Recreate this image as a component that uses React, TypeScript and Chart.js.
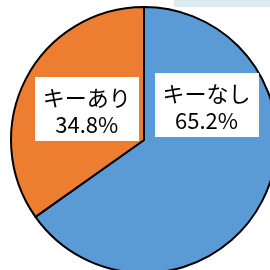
import React, { useEffect, useRef } from "react";
import { Chart, registerables } from "chart.js";

Chart.register(...registerables);

const categories = ["キーなし", "キーあり"];
const values = [65.2, 34.8];
const valueLabels = ["65.2%", "34.8%"];
const sliceColors = ["#5b9bd5", "#ed7d31"];
// label box centre, as a fraction of the pie radius from the pie centre
const labelFx = [0.47, -0.43];
const labelFy = [-0.26, -0.23];

const labelPlugin = {
  id: "boxLabels",
  afterDatasetsDraw(chart: any) {
    const ctx = chart.ctx;
    const meta = chart.getDatasetMeta(0);
    ctx.save();
    meta.data.forEach((arc: any, i: number) => {
      const { x, y, outerRadius } = arc.getProps(["x", "y", "outerRadius"], true);
      const cx = x + labelFx[i] * outerRadius;
      const cy = y + labelFy[i] * outerRadius;
      ctx.font = '22px "Noto Sans CJK JP"';
      const w1 = ctx.measureText(categories[i]).width;
      const w2 = ctx.measureText(valueLabels[i]).width;
      const bw = Math.max(w1, w2) + 16;
      const bh = 64;
      ctx.fillStyle = "#ffffff";
      ctx.fillRect(Math.round(cx - bw / 2), Math.round(cy - bh / 2), Math.round(bw), bh);
      ctx.fillStyle = "#000000";
      ctx.textAlign = "center";
      ctx.textBaseline = "middle";
      ctx.fillText(categories[i], cx, cy - 12);
      ctx.fillText(valueLabels[i], cx, cy + 15);
    });
    ctx.restore();
  },
};

export default function App() {
  const ref = useRef<HTMLCanvasElement | null>(null);
  useEffect(() => {
    if (!ref.current) return;
    const chart = new Chart(ref.current, {
      type: "pie",
      data: {
        labels: categories,
        datasets: [
          {
            data: values,
            backgroundColor: sliceColors,
            borderColor: "#000000",
            borderWidth: 2,
            clip: false,
          } as any,
        ],
      },
      options: {
        animation: false,
        responsive: false,
        radius: 133,
        layout: { padding: { left: 18, top: 10, right: 0, bottom: 0 } },
        plugins: {
          legend: { display: false },
          tooltip: { enabled: false },
        },
      } as any,
      plugins: [labelPlugin],
    });
    return () => chart.destroy();
  }, []);
  return (
    <div
      style={{
        position: "fixed",
        left: 0,
        top: 0,
        width: 270,
        height: 270,
        overflow: "hidden",
        background: "#ffffff",
      }}
    >
      <div
        style={{
          position: "absolute",
          left: 174,
          top: 0,
          width: 96,
          height: 7,
          background: "#dceaf1",
        }}
      />
      <canvas
        ref={ref}
        width={270}
        height={270}
        style={{ position: "absolute", left: 0, top: 0, width: 270, height: 270 }}
      />
    </div>
  );
}
